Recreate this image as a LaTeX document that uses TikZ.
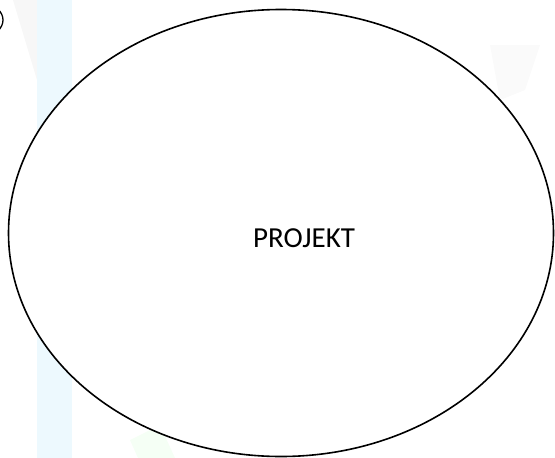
\documentclass[tikz,border=0pt]{standalone}
\usepackage{fontspec}
\setmainfont{Carlito}
\usetikzlibrary{shapes.geometric,positioning}

\begin{document}
\begin{tikzpicture}[
    x=1pt, y=1pt,
    bubble/.style={draw, ellipse, line width=1.6pt, fill=white, inner sep=0pt},
    lbl/.style={font=\fontsize{29}{31}\selectfont, inner sep=0pt}
]
\useasboundingbox (0,0) rectangle (555,-458);
% faint background traces
\begin{scope}
\clip (0,0) rectangle (555,-458);
\fill[black!3] (13,0) -- (37,0) -- (37,-80) -- cycle;
\fill[cyan!7] (37,0) rectangle (72,-458);
\fill[green!4] (130,-440) -- (160,-425) -- (175,-458) -- (138,-458) -- cycle;
\fill[black!2] (490,-45) -- (540,-45) -- (525,-90) -- (500,-100) -- cycle;
\draw[line width=1.3pt] (-60,-20) ellipse [x radius=63, y radius=28];
\end{scope}
% main shape
\node[bubble, minimum width=545pt, minimum height=447pt] (proj) at (281,-233) {};
\node[lbl] (projtxt) at (304,-238) {PROJEKT};
\end{tikzpicture}
\end{document}
